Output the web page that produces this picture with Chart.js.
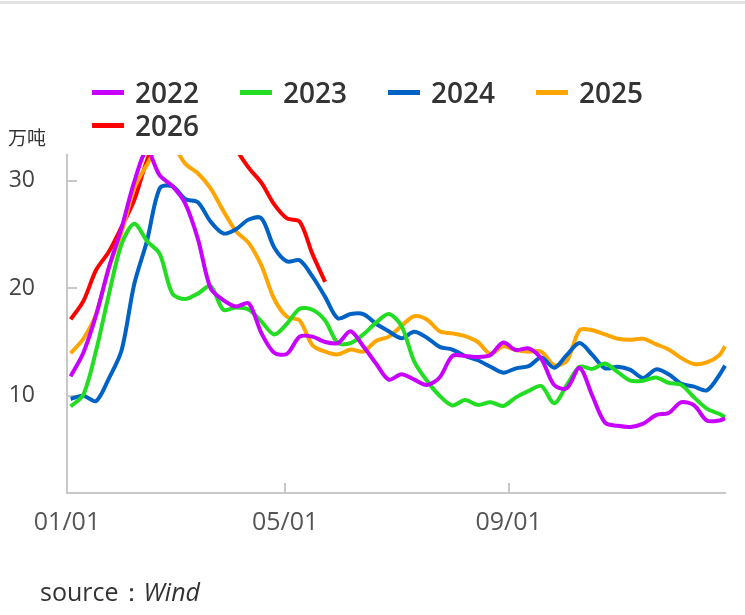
<!DOCTYPE html>
<html>
<head>
<meta charset="utf-8">
<script src="https://cdn.jsdelivr.net/npm/chart.js@4.4.1/dist/chart.umd.min.js"></script>
<style>
html,body{margin:0;padding:0;background:#fff;}
#wrap{position:relative;width:745px;height:615px;overflow:hidden;font-family:'Open Sans',sans-serif;}
#topline{position:absolute;left:0;top:1px;width:745px;height:3px;background:#e2e2e2;}
#c{position:absolute;left:0;top:0;}
#legend{position:absolute;left:92px;top:75.5px;width:600px;display:flex;flex-wrap:wrap;}
.li{width:148px;height:33px;display:flex;align-items:center;}
.sw{width:32px;height:5px;margin-right:11px;flex:none;}
.lt{font-size:28px;font-weight:600;color:#333;line-height:33px;}
#unit{position:absolute;left:8px;top:127px;font-family:'Noto Sans CJK SC',sans-serif;font-size:19px;line-height:1;color:#333;}
#source{position:absolute;left:40px;top:576px;font-size:25px;line-height:1.2;color:#333;font-family:'Open Sans',sans-serif;}
#source i{font-style:italic;}
</style>
</head>
<body>
<div id="wrap">
  <div id="topline"></div>
  <canvas id="c" width="745" height="615"></canvas>
  <div id="legend"></div>
  <div id="unit">万吨</div>
  <div id="source">source：<i>Wind</i></div>
</div>
<script>
// day-of-year sample positions (x)
const days = [2,9,16,23,30,37,44,51,58,65,72,79,86,93,100,107,114,121,128,135,142,149,156,163,170,177,184,191,198,205,212,219,226,233,240,247,254,261,268,275,282,289,296,303,310,317,324,331,338,345,352,359,362];
const tickDays = [0,120,243];
const tickLabels = ['01/01','05/01','09/01'];
const yTicks = [10,20,30];
const seriesNames = ['2022','2023','2024','2025','2026'];

const v2022 = [11.8,14.0,17.5,21.9,25.6,29.9,32.8,30.5,29.5,27.9,24.6,20.0,18.9,18.3,18.6,15.8,14.0,13.9,15.5,15.5,15.0,14.9,16.0,14.6,13.0,11.5,12.0,11.5,11.0,11.7,13.7,13.7,13.6,13.8,14.95,14.25,14.4,13.4,11.0,10.7,12.6,10.0,7.5,7.2,7.1,7.4,8.2,8.4,9.4,9.1,7.7,7.7,7.9];
const v2023 = [9.0,10.1,14.2,19.4,24.1,26.0,24.4,23.2,19.5,19.0,19.5,20.2,18.0,18.2,18.0,16.9,15.7,16.7,18.1,18.0,17.0,14.9,14.9,15.7,16.8,17.6,16.5,13.2,11.4,10.0,9.1,9.6,9.15,9.4,9.05,9.85,10.45,10.9,9.3,11.0,12.7,12.5,13.0,12.2,11.4,11.4,11.7,11.2,11.0,9.85,8.8,8.3,8.0];
const v2024 = [9.7,10.0,9.5,11.6,14.2,20.4,24.4,29.3,29.5,28.3,28.0,26.2,25.1,25.5,26.4,26.5,23.8,22.5,22.6,21.1,19.2,17.2,17.6,17.6,16.7,16.0,15.35,15.95,15.4,14.55,14.3,13.7,13.3,12.7,12.15,12.55,12.75,13.55,12.6,13.8,14.9,13.8,12.55,12.7,12.4,11.65,12.45,12.0,11.1,10.85,10.5,11.95,12.8];
const v2025 = [13.95,15.3,17.6,21.9,25.2,29.3,31.5,33.4,33.3,31.6,30.7,29.3,27.2,25.3,24.2,22.1,19.0,17.35,17.0,14.7,14.1,13.85,14.3,14.1,15.1,15.5,16.5,17.4,17.1,16.0,15.8,15.55,15.0,13.9,14.6,14.25,14.1,14.1,12.85,13.25,16.1,16.1,15.7,15.3,15.2,15.3,14.8,14.3,13.5,12.95,13.1,13.8,14.6];
const v2026 = [17.1,18.8,21.7,23.4,25.7,28.2,31.9,34.5,36.0,37.0,37.5,37.0,35.5,33.0,31.2,29.8,27.8,26.5,26.2,23.2,20.6];

const colors = ['#c800ff','#22dd22','#0062c4','#ffa500','#ff0000'];
const allValues = [v2022, v2023, v2024, v2025, v2026];

function toPoints(vals){
  const pts = [];
  vals.forEach((v,i)=>{ if(v!==null && v!==undefined) pts.push({x:days[i], y:v}); });
  return pts;
}

const datasets = seriesNames.map((name,i)=>({
  label: name,
  data: toPoints(allValues[i]),
  borderColor: colors[i],
  backgroundColor: colors[i],
  borderWidth: 4,
  pointRadius: 0,
  tension: 0.3,
  fill: false,
  clip: {left: 6, top: 0, right: 6, bottom: 6}
}));

const innerTicks = {
  id: 'innerTicks',
  beforeDatasetsDraw(chart){
    const {ctx, chartArea, scales} = chart;
    ctx.save();
    ctx.strokeStyle = '#c8c8c8';
    ctx.lineWidth = 2;
    yTicks.forEach(v=>{
      const py = Math.round(scales.y.getPixelForValue(v));
      ctx.beginPath(); ctx.moveTo(chartArea.left, py); ctx.lineTo(chartArea.left + 10, py); ctx.stroke();
    });
    tickDays.forEach(d=>{
      const px = Math.round(scales.x.getPixelForValue(d));
      ctx.beginPath(); ctx.moveTo(px, chartArea.bottom); ctx.lineTo(px, chartArea.bottom - 10); ctx.stroke();
    });
    ctx.restore();
  }
};

const chart = new Chart(document.getElementById('c').getContext('2d'), {
  type: 'line',
  data: { datasets },
  plugins: [innerTicks],
  options: {
    responsive: false,
    animation: false,
    layout: { padding: { top: 155, left: 0, right: 20, bottom: 0 } },
    plugins: { legend: { display: false }, tooltip: { enabled: false } },
    scales: {
      x: {
        type: 'linear', min: 0, max: 362,
        afterBuildTicks: s => { s.ticks = tickDays.map(v => ({ value: v })); },
        afterFit: s => { s.height = 122; },
        ticks: {
          callback: v => { const i = tickDays.indexOf(v); return i >= 0 ? tickLabels[i] : ''; },
          font: { family: 'Open Sans', size: 25 }, color: '#555', padding: 15,
          maxRotation: 0, autoSkip: false
        },
        grid: { drawOnChartArea: false, drawTicks: false },
        border: { display: true, color: '#c8c8c8', width: 2 }
      },
      y: {
        min: 0.95, max: 32.4,
        afterBuildTicks: s => { s.ticks = yTicks.map(v => ({ value: v })); },
        afterFit: s => { s.width = 67; },
        ticks: { font: { family: 'Open Sans', size: 23 }, color: '#444', padding: 32 },
        grid: { drawOnChartArea: false, drawTicks: false },
        border: { display: true, color: '#c8c8c8', width: 2 }
      }
    }
  }
});

// HTML legend from chart datasets
const legendEl = document.getElementById('legend');
chart.data.datasets.forEach(ds => {
  const item = document.createElement('div'); item.className = 'li';
  const sw = document.createElement('span'); sw.className = 'sw'; sw.style.background = ds.borderColor;
  const tx = document.createElement('span'); tx.className = 'lt'; tx.textContent = ds.label;
  item.appendChild(sw); item.appendChild(tx); legendEl.appendChild(item);
});
</script>
</body>
</html>
